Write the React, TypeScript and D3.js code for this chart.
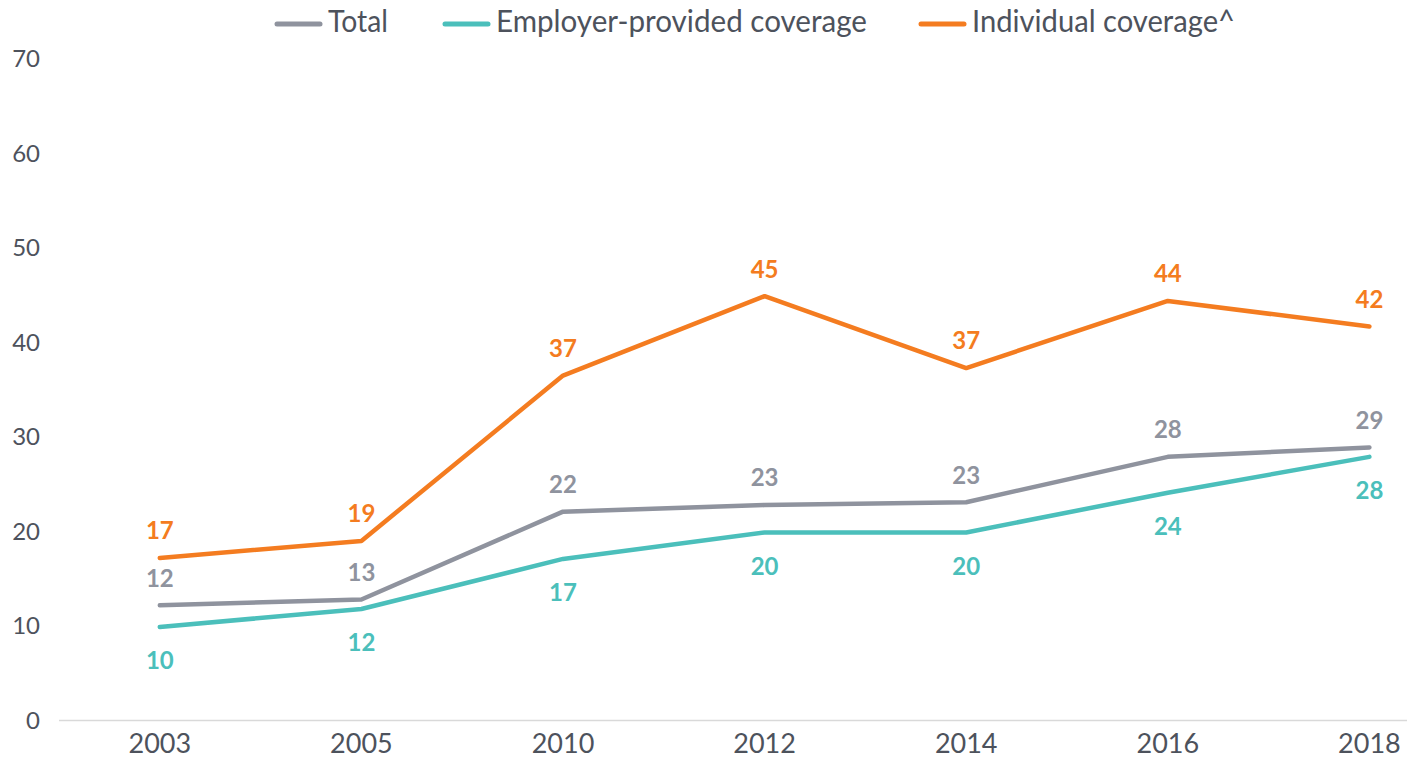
import { useEffect, useRef } from "react";
import * as d3 from "d3";

const years = ["2003", "2005", "2010", "2012", "2014", "2016", "2018"];
const total = [12.2, 12.8, 22.1, 22.8, 23.1, 27.9, 28.9];
const employer = [9.9, 11.8, 17.1, 19.9, 19.9, 24.1, 27.9];
const individual = [17.2, 19.0, 36.5, 44.9, 37.3, 44.4, 41.7];
const yTicks = [0, 10, 20, 30, 40, 50, 60, 70];

const W = 1407;
const H = 760;

export default function App() {
  const ref = useRef<SVGSVGElement>(null);

  useEffect(() => {
    const svg = d3.select(ref.current);
    svg.selectAll("*").remove();

    const font = "Lato, 'Open Sans', sans-serif";
    const textColor = "#4d525c";

    const x = d3.scaleBand().domain(years).range([59, 59 + 7 * 201.6]);
    const y = d3.scaleLinear().domain([0, 70]).range([720.5, 59]);
    const cx = (d: string) => (x(d) ?? 0) + x.bandwidth() / 2;

    const series = [
      { name: "Total", values: total, color: "#8f939e", labelPos: "above", legendX: 275, textW: 60 },
      { name: "Employer-provided coverage", values: employer, color: "#4bbfbb", labelPos: "below", legendX: 443, textW: 371 },
      { name: "Individual coverage^", values: individual, color: "#f47c20", labelPos: "above", legendX: 919, textW: 263 },
    ];

    // y axis labels
    svg.append("g")
      .selectAll("text")
      .data(yTicks)
      .enter()
      .append("text")
      .attr("x", 40)
      .attr("y", (d) => y(d))
      .attr("dy", "0.35em")
      .attr("text-anchor", "end")
      .attr("font-family", font)
      .attr("font-size", 24)
      .attr("fill", textColor)
      .text((d) => d);

    // x axis baseline
    svg.append("line")
      .attr("x1", 59)
      .attr("x2", W)
      .attr("y1", y(0))
      .attr("y2", y(0))
      .attr("stroke", "#d9d9d9")
      .attr("stroke-width", 1.5);

    // x labels
    svg.append("g")
      .selectAll("text")
      .data(years)
      .enter()
      .append("text")
      .attr("x", (d) => cx(d))
      .attr("y", 753)
      .attr("text-anchor", "middle")
      .attr("font-family", font)
      .attr("font-size", 27)
      .attr("fill", textColor)
      .text((d) => d);

    const line = d3.line<number>()
      .x((_, i) => cx(years[i]))
      .y((d) => y(d));

    // draw order: total, employer, individual
    series.forEach((s) => {
      svg.append("path")
        .attr("d", line(s.values))
        .attr("fill", "none")
        .attr("stroke", s.color)
        .attr("stroke-width", 4.5)
        .attr("stroke-linejoin", "round")
        .attr("stroke-linecap", "round");

      svg.append("g")
        .selectAll("text")
        .data(s.values)
        .enter()
        .append("text")
        .attr("x", (_, i) => cx(years[i]))
        .attr("y", (d) => y(d) + (s.labelPos === "above" ? -27 : 34))
        .attr("dy", "0.35em")
        .attr("text-anchor", "middle")
        .attr("font-family", font)
        .attr("font-weight", 700)
        .attr("font-size", 24)
        .attr("fill", s.color)
        .text((d) => Math.round(d));
    });

    // legend
    const leg = svg.append("g");
    series.forEach((s) => {
      leg.append("line")
        .attr("x1", s.legendX + 2)
        .attr("x2", s.legendX + 45)
        .attr("y1", 24)
        .attr("y2", 24)
        .attr("stroke", s.color)
        .attr("stroke-width", 5)
        .attr("stroke-linecap", "round");
      leg.append("text")
        .attr("x", s.legendX + 53)
        .attr("y", 32)
        .attr("font-family", font)
        .attr("font-size", 30)
        .attr("fill", textColor)
        .attr("textLength", s.textW)
        .attr("lengthAdjust", "spacingAndGlyphs")
        .text(s.name);
    });
  }, []);

  return (
    <svg
      ref={ref}
      width={W}
      height={H}
      style={{ position: "absolute", left: 0, top: 0, display: "block", background: "#fff" }}
    />
  );
}
